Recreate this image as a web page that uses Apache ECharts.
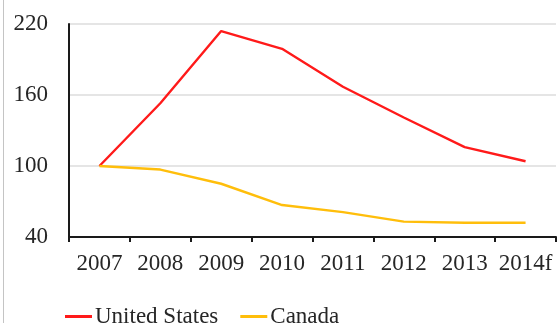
<!DOCTYPE html>
<html>
<head>
<meta charset="utf-8">
<script src="https://cdn.jsdelivr.net/npm/echarts@6/dist/echarts.min.js"></script>
<style>
  html, body { margin: 0; padding: 0; background: #fff; }
  #chart { width: 557px; height: 323px; }
</style>
</head>
<body>
<div id="chart"></div>
<script>
// Index values, 2007 = 100
const years = ['2007', '2008', '2009', '2010', '2011', '2012', '2013', '2014f'];
const unitedStates = [100, 153, 214, 199, 167, 141, 116, 104];
const canada = [100, 97, 85, 67, 61, 53, 52, 52];
const yTicks = { min: 40, max: 220, step: 60 };

const FONT = '"Liberation Serif", "DejaVu Serif", serif';
const INK = '#262626';

const chart = echarts.init(document.getElementById('chart'), null, { renderer: 'canvas' });

chart.setOption({
  animation: false,
  backgroundColor: '#ffffff',
  grid: { left: 69, right: 1, top: 24, bottom: 86, containLabel: false },
  graphic: [{
    type: 'line',
    shape: { x1: 3.5, y1: 0, x2: 3.5, y2: 323 },
    style: { stroke: '#c4c4c4', lineWidth: 1 },
    silent: true
  }],
  legend: {
    left: 60,
    top: 300,
    icon: 'rect',
    itemWidth: 27,
    itemHeight: 3,
    itemGap: 22,
    textStyle: { fontFamily: FONT, fontSize: 23, color: INK, padding: [0, 0, 0, -2] },
    data: ['United States', 'Canada']
  },
  xAxis: {
    type: 'category',
    data: years,
    boundaryGap: true,
    axisLine: { show: true, lineStyle: { color: '#1a1a1a', width: 2 } },
    axisTick: { show: true, length: 5, interval: 0, lineStyle: { color: '#1a1a1a', width: 2 } },
    axisLabel: { interval: 0, margin: 15, fontFamily: FONT, fontSize: 23, color: INK },
    splitLine: { show: false }
  },
  yAxis: {
    type: 'value',
    min: yTicks.min,
    max: yTicks.max,
    interval: yTicks.step,
    axisLine: { show: true, lineStyle: { color: '#1a1a1a', width: 2 } },
    axisTick: { show: false },
    axisLabel: { margin: 21, fontFamily: FONT, fontSize: 23, color: INK },
    splitLine: { show: true, lineStyle: { color: '#dcdcdc', width: 1.5 } }
  },
  series: [
    {
      name: 'United States',
      type: 'line',
      data: unitedStates,
      symbol: 'none',
      lineStyle: { color: '#ff1a1a', width: 2.4 },
      itemStyle: { color: '#ff1a1a' }
    },
    {
      name: 'Canada',
      type: 'line',
      data: canada,
      symbol: 'none',
      lineStyle: { color: '#ffbe0b', width: 2.4 },
      itemStyle: { color: '#ffbe0b' }
    }
  ]
});
</script>
</body>
</html>
